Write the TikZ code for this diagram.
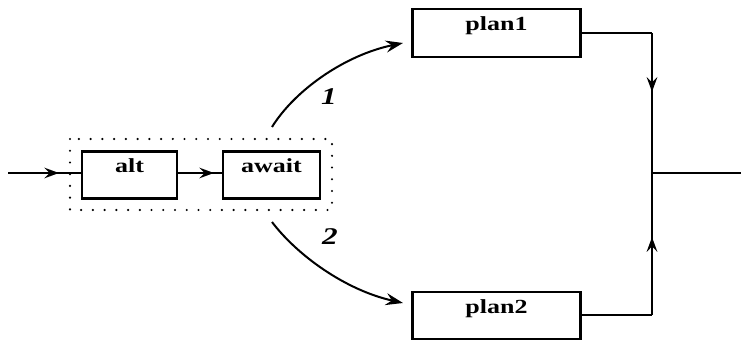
\documentclass[tikz,border=0pt]{standalone}
\usepackage{fontspec}
\setmainfont{Liberation Serif}
\newfontfamily\widefont[FakeStretch=1.3]{Liberation Serif}
\usetikzlibrary{arrows.meta,decorations.markings}

\tikzset{
  wire/.style={line width=1.5pt},
  block/.style={draw, line width=1.8pt, rectangle, inner sep=0pt,
    font=\widefont\fontsize{15}{17}\selectfont\bfseries,
    text height=10pt, text depth=13pt},
  midarrow/.style={wire, postaction={decorate}, decoration={markings,
    mark=at position #1 with {\arrow[line width=1.5pt]{Stealth[length=11pt,width=8pt,inset=4pt]}}}},
  branch/.style={font=\widefont\fontsize{18}{20}\selectfont\bfseries\itshape},
  group/.style={line width=1.8pt, line cap=round, dash pattern=on 0pt off 8.8pt}
}

\begin{document}
\begin{tikzpicture}[x=0.75pt, y=-0.75pt]
  \useasboundingbox (0,0) rectangle (741,341);

  % grouped stage: alt followed by await
  \draw[group] (70,139) rectangle (332,210);
  \node[block, minimum width=71.25pt, minimum height=35.25pt] (alt)   at (129.5,175) {alt};
  \node[block, minimum width=72.75pt, minimum height=35.25pt] (await) at (271.5,175) {await};

  % the two alternative plans
  \node[block, minimum width=126pt, minimum height=36pt] (plan1) at (496.5,33) {plan1};
  \node[block, minimum width=126pt, minimum height=35pt] (plan2) at (496.5,315.5) {plan2};

  % junction points
  \coordinate (in)  at (8,173);
  \coordinate (J)   at (652,173);
  \coordinate (out) at (741,173);
  \coordinate (k1)  at (plan1.east -| J);
  \coordinate (k2)  at (plan2.east -| J);

  % flow into and through the group
  \draw[midarrow=0.7] (in) -- (alt.west |- in);
  \draw[midarrow=0.82] (alt.east |- in) -- (await.west |- in);

  % branches
  \coordinate (b1s) at (272,127);
  \coordinate (b1e) at (403,43);
  \coordinate (b2s) at (272,222);
  \coordinate (b2e) at (403,303);
  \draw[wire, -{Stealth[length=13pt,width=9pt,inset=4.5pt]}]
    (b1s) .. controls (295,90) and (345,55) .. (b1e);
  \draw[wire, -{Stealth[length=13pt,width=9pt,inset=4.5pt]}]
    (b2s) .. controls (297,255) and (345,290) .. (b2e);
  \node[branch] (l1) at (329,97) {1};
  \node[branch] (l2) at (330,237) {2};

  % merge of the plans
  \draw[wire] (plan1.east) -- (k1);
  \draw[midarrow=0.42] (k1) -- (J);
  \draw[wire] (plan2.east) -- (k2);
  \draw[midarrow=0.55] (k2) -- (J);
  \draw[wire] (J) -- (out);
\end{tikzpicture}
\end{document}
